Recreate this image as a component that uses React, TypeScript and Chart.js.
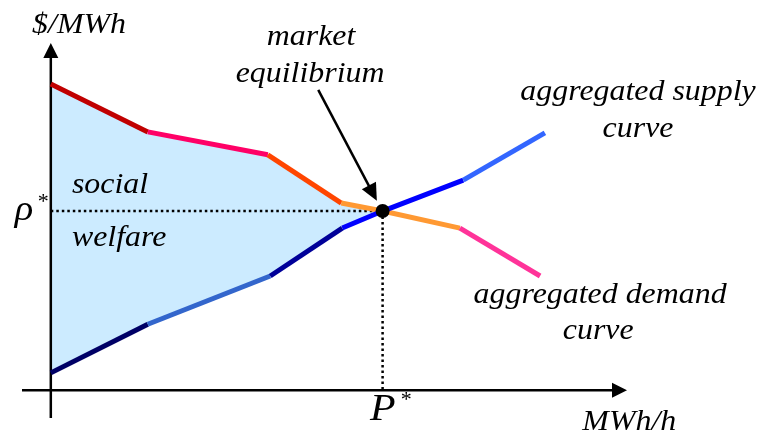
import React, { useEffect, useRef } from 'react';
import { Chart, registerables } from 'chart.js';

Chart.register(...registerables);

// Aggregated demand curve (quantity MWh/h, price $/MWh)
const demandQ = [0, 20.2, 45.2, 60.5, 69.1, 85.2, 101.9];
const demandP = [88.2, 74.4, 67.8, 53.9, 51.6, 46.7, 32.9];
const demandColors = ['#C00000', '#FF0066', '#FF4500', '#FF9933', '#FF9933', '#FF3399'];

// Aggregated supply curve
const supplyQ = [0, 20.2, 45.7, 60.7, 69.1, 85.9, 102.9];
const supplyP = [5.0, 19.0, 32.9, 46.7, 51.6, 60.5, 74.1];
const supplyColors = ['#000066', '#3366CC', '#000099', '#0000FF', '#0000FF', '#3366FF'];

// Market equilibrium
const eqIndex = 4;
const eqQ = 69.1;
const eqP = 51.6;

// Axis extents (data units)
const xRange = [-6, 120];
const yRange = [-8, 100];

// Pointer arrow (data units): start, tip
const pointerFrom = { x: 55.7, y: 86.5 };
const pointerTo = { x: 67.9, y: 54.6 };

const FAMILY = '"Liberation Serif"';
const FONT_SIZE = 29;
const STRETCH = 1.1;

type Lbl = { t: string; x: number; y: number; align: CanvasTextAlign; size?: number; italic?: boolean };
const labels: Lbl[] = [
  { t: '$/MWh', x: -3.9, y: 102.9, align: 'left' },
  { t: 'market', x: 54.2, y: 99.4, align: 'center' },
  { t: 'equilibrium', x: 54.0, y: 88.8, align: 'center' },
  { t: 'aggregated supply', x: 122.3, y: 83.6, align: 'center' },
  { t: 'curve', x: 122.3, y: 72.9, align: 'center' },
  { t: 'social', x: 4.4, y: 56.8, align: 'left' },
  { t: 'welfare', x: 4.4, y: 41.6, align: 'left' },
  { t: 'aggregated demand', x: 114.4, y: 25.1, align: 'center' },
  { t: 'curve', x: 114.0, y: 14.7, align: 'center' },
  { t: 'MWh/h', x: 110.7, y: -11.5, align: 'left' },
  { t: 'ρ', x: -7.5, y: 49.0, align: 'left', size: 35 },
  { t: '*', x: -1.6, y: 52.6, align: 'center', size: 20, italic: false },
  { t: 'P', x: 66.5, y: -8.6, align: 'left', size: 38 },
  { t: '*', x: 74.0, y: -4.4, align: 'center', size: 20, italic: false },
];

const pts = (xs: number[], ys: number[]) => xs.map((x, i) => ({ x, y: ys[i] }));

function arrowHead(ctx: CanvasRenderingContext2D, x1: number, y1: number, x2: number, y2: number, len: number, w: number) {
  const a = Math.atan2(y2 - y1, x2 - x1);
  const bx = x2 - Math.cos(a) * len;
  const by = y2 - Math.sin(a) * len;
  const nx = -Math.sin(a) * (w / 2);
  const ny = Math.cos(a) * (w / 2);
  ctx.beginPath();
  ctx.moveTo(x2, y2);
  ctx.lineTo(bx + nx, by + ny);
  ctx.lineTo(bx - nx, by - ny);
  ctx.closePath();
  ctx.fill();
}

const overlayPlugin = {
  id: 'overlay',
  afterDatasetsDraw(chart: any) {
    const ctx: CanvasRenderingContext2D = chart.ctx;
    const xs = chart.scales.x;
    const ys = chart.scales.y;
    const X = (v: number) => xs.getPixelForValue(v);
    const Y = (v: number) => ys.getPixelForValue(v);
    ctx.save();
    ctx.fillStyle = '#000';
    // axis arrowheads
    arrowHead(ctx, X(0), Y(0), X(0), Y(yRange[1]), 15, 15);
    arrowHead(ctx, X(0), Y(0), X(xRange[1]), Y(0), 15, 15);
    // pointer arrowhead
    arrowHead(ctx, X(pointerFrom.x), Y(pointerFrom.y), X(pointerTo.x), Y(pointerTo.y), 17, 16);

    ctx.textBaseline = 'alphabetic';
    for (const l of labels) {
      ctx.save();
      ctx.font = `${l.italic === false ? '' : 'italic '}${l.size ?? FONT_SIZE}px ${FAMILY}`;
      ctx.textAlign = l.align;
      ctx.translate(X(l.x), Y(l.y));
      ctx.scale(STRETCH, 1);
      ctx.fillText(l.t, 0, 0);
      ctx.restore();
    }
    ctx.restore();
  },
};

export default function App() {
  const ref = useRef<HTMLCanvasElement | null>(null);
  useEffect(() => {
    let chart: Chart | null = null;
    let cancelled = false;
    const build = () => {
      if (cancelled || !ref.current) return;
      const welfare = [
        ...pts(demandQ.slice(0, eqIndex + 1), demandP.slice(0, eqIndex + 1)),
        ...pts(supplyQ.slice(0, eqIndex + 1), supplyP.slice(0, eqIndex + 1)).reverse(),
      ];
      chart = new Chart(ref.current, {
        type: 'scatter',
        data: {
          datasets: [
            {
              data: welfare,
              showLine: true,
              fill: 'shape',
              backgroundColor: '#CCEBFF',
              borderWidth: 0,
              borderColor: 'rgba(0,0,0,0)',
              pointRadius: 0,
              order: 10,
            } as any,
            {
              data: [{ x: 0, y: eqP }, { x: eqQ, y: eqP }],
              showLine: true,
              borderColor: '#000',
              borderWidth: 2.5,
              borderDash: [2.5, 3],
              pointRadius: 0,
              order: 9,
            },
            {
              data: [{ x: eqQ, y: eqP }, { x: eqQ, y: 0 }],
              showLine: true,
              borderColor: '#000',
              borderWidth: 2.5,
              borderDash: [2.5, 3],
              pointRadius: 0,
              order: 9,
            },
            {
              data: [{ x: xRange[0], y: 0 }, { x: xRange[1] - 2, y: 0 }],
              showLine: true,
              borderColor: '#000',
              borderWidth: 2.5,
              pointRadius: 0,
              order: 8,
            },
            {
              data: [{ x: 0, y: yRange[0] }, { x: 0, y: yRange[1] - 3 }],
              showLine: true,
              borderColor: '#000',
              borderWidth: 2.5,
              pointRadius: 0,
              order: 8,
            },
            {
              data: pts(supplyQ, supplyP),
              showLine: true,
              borderWidth: 5,
              borderColor: supplyColors[0],
              segment: { borderColor: (c: any) => supplyColors[c.p0DataIndex] },
              pointRadius: 0,
              borderCapStyle: 'butt',
              order: 3,
            } as any,
            {
              data: pts(demandQ, demandP),
              showLine: true,
              borderWidth: 5,
              borderColor: demandColors[0],
              segment: { borderColor: (c: any) => demandColors[c.p0DataIndex] },
              pointRadius: 0,
              borderCapStyle: 'butt',
              order: 4,
            } as any,
            {
              data: [pointerFrom, { x: pointerTo.x - 0.8, y: pointerTo.y + 2 }],
              showLine: true,
              borderColor: '#000',
              borderWidth: 2.5,
              pointRadius: 0,
              order: 1,
            },
            {
              data: [{ x: eqQ, y: eqP }],
              showLine: false,
              pointRadius: 7,
              pointBackgroundColor: '#000',
              pointBorderColor: '#000',
              pointBorderWidth: 0,
              order: 0,
            },
          ],
        },
        options: {
          responsive: false,
          animation: false,
          devicePixelRatio: 1,
          layout: { padding: { left: 22, right: 133, top: 43, bottom: 18 } },
          scales: {
            x: { type: 'linear', min: xRange[0], max: xRange[1], display: false },
            y: { type: 'linear', min: yRange[0], max: yRange[1], display: false },
          },
          plugins: { legend: { display: false }, tooltip: { enabled: false } },
          elements: { line: { tension: 0 } },
          events: [],
        },
        plugins: [overlayPlugin],
      });
    };
    const loads = [
      `italic ${FONT_SIZE}px "Liberation Serif"`,
      `20px "Liberation Serif"`,
    ].map((f) => document.fonts.load(f).catch(() => null));
    Promise.all(loads).then(() => document.fonts.ready).then(build);
    return () => {
      cancelled = true;
      if (chart) chart.destroy();
    };
  }, []);
  return (
    <div style={{ position: 'fixed', left: 0, top: 0, width: 760, height: 436, background: '#fff' }}>
      <canvas ref={ref} width={760} height={436} style={{ display: 'block' }} />
    </div>
  );
}
